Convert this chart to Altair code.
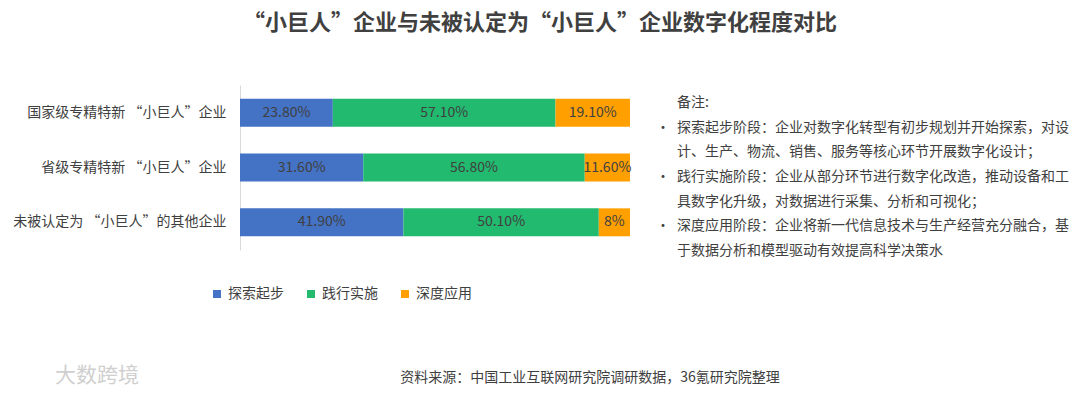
import altair as alt
import pandas as pd

categories = ["国家级专精特新 “小巨人”企业", "省级专精特新 “小巨人”企业", "未被认定为 “小巨人”的其他企业"]
stages = ["探索起步", "践行实施", "深度应用"]
values = {
    "探索起步": [23.8, 31.6, 41.9],
    "践行实施": [57.1, 56.8, 50.1],
    "深度应用": [19.1, 11.6, 8.0],
}
labels = {
    "探索起步": ["23.80%", "31.60%", "41.90%"],
    "践行实施": ["57.10%", "56.80%", "50.10%"],
    "深度应用": ["19.10%", "11.60%", "8%"],
}
colors = ["#4472C4", "#22BA6F", "#FFA000"]

title_text = "“小巨人”企业与未被认定为“小巨人”企业数字化程度对比"
note_lines = [
    "备注:",
    "探索起步阶段：企业对数字化转型有初步规划并开始探索，对设",
    "计、生产、物流、销售、服务等核心环节开展数字化设计；",
    "践行实施阶段：企业从部分环节进行数字化改造，推动设备和工",
    "具数字化升级，对数据进行采集、分析和可视化；",
    "深度应用阶段：企业将新一代信息技术与生产经营充分融合，基",
    "于数据分析和模型驱动有效提高科学决策水",
]
bullet_rows = [1, 3, 5]
source_text = "资料来源：中国工业互联网研究院调研数据，36氪研究院整理"
watermark_text = "大数跨境"

FONT = "Noto Sans CJK SC"
TXT = "#404040"

rows = []
for s_i, s in enumerate(stages):
    for c_i, c in enumerate(categories):
        rows.append({"category": c, "stage": s, "order": s_i,
                     "value": values[s][c_i], "label": labels[s][c_i]})
df = pd.DataFrame(rows)

W, H = 390, 165

bars = alt.Chart(df).mark_bar().encode(
    y=alt.Y("category:N", sort=categories,
            scale=alt.Scale(paddingInner=0.49, paddingOuter=0.25),
            axis=alt.Axis(title=None, ticks=False, domainColor="#d9d9d9",
                          labelFont=FONT, labelFontSize=14, labelColor=TXT,
                          labelPadding=14, labelLimit=300)),
    x=alt.X("value:Q", stack="zero", scale=alt.Scale(domain=[0, 100], nice=False),
            axis=None),
    color=alt.Color("stage:N", sort=stages,
                    scale=alt.Scale(domain=stages, range=colors),
                    legend=alt.Legend(title=None, orient="none", direction="horizontal",
                                      legendX=-30, legendY=202,
                                      symbolType="square", symbolSize=64,
                                      symbolStrokeWidth=0,
                                      labelFont=FONT, labelFontSize=14,
                                      labelColor=TXT, labelOffset=4,
                                      columnPadding=20)),
    order=alt.Order("order:Q"),
)

texts = alt.Chart(df).transform_stack(
    stack="value", groupby=["category"], as_=["v0", "v1"],
    sort=[alt.SortField("order", "ascending")]
).transform_calculate(mid="(datum.v0 + datum.v1) / 2").mark_text(
    font=FONT, fontSize=14, color=TXT
).encode(
    y=alt.Y("category:N", sort=categories),
    x=alt.X("mid:Q"),
    text="label:N",
)

one = pd.DataFrame({"t": [0]})

title = alt.Chart(one).mark_text(
    text=title_text, font=FONT, fontSize=22, fontWeight="bold", color=TXT,
    align="center", baseline="middle"
).encode(x=alt.value(300), y=alt.value(-62))

notes = alt.Chart(one).mark_text(
    text="\n".join(note_lines), lineBreak="\n", lineHeight=24.67,
    font=FONT, fontSize=14, color=TXT, align="left", baseline="middle"
).encode(x=alt.value(437), y=alt.value(18))

bullet_layers = [
    alt.Chart(one).mark_text(text="•", font=FONT, fontSize=14, color=TXT,
                             align="center", baseline="middle"
    ).encode(x=alt.value(423), y=alt.value(18 + 24.67 * r))
    for r in bullet_rows
]

source = alt.Chart(one).mark_text(
    text=source_text, font=FONT, fontSize=14, color=TXT, align="center",
    baseline="middle"
).encode(x=alt.value(350), y=alt.value(293))

watermark = alt.Chart(one).mark_text(
    text=watermark_text, font=FONT, fontSize=21, color="#cfcfcf", align="left",
    baseline="middle"
).encode(x=alt.value(-185), y=alt.value(291))

chart = alt.layer(bars, texts, title, notes, *bullet_layers, source, watermark).properties(
    width=W, height=H,
    autosize=alt.AutoSizeParams(type="none"),
    padding={"left": 232, "top": 77, "right": 442, "bottom": 137},
).configure_view(stroke=None)

chart.save("out.html", embed_options={"renderer": "svg", "actions": False})
